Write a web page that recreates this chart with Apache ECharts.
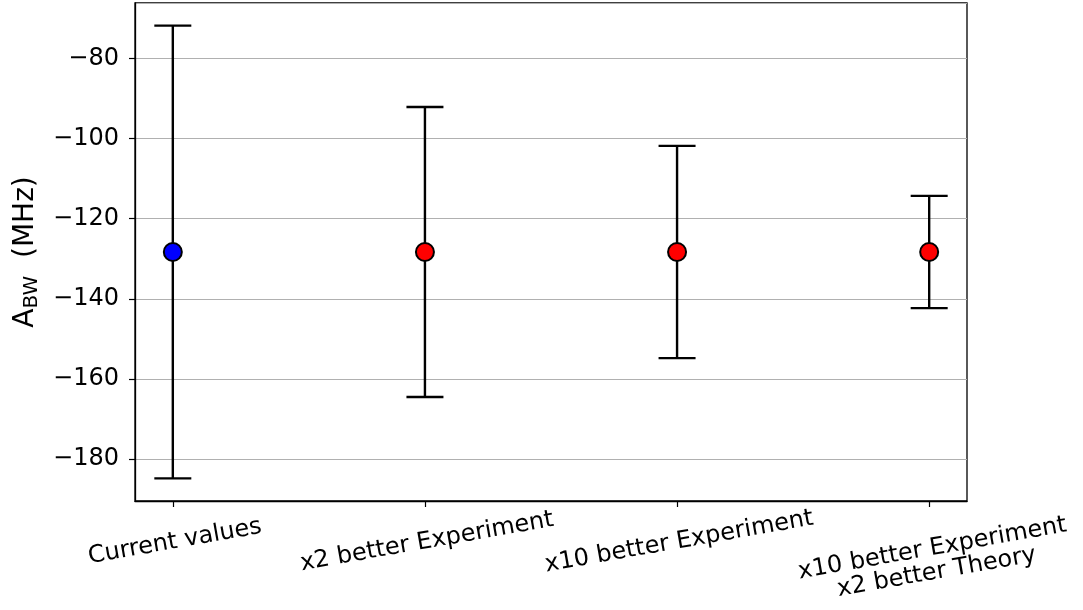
<!DOCTYPE html>
<html>
<head>
<meta charset="utf-8">
<script src="https://cdn.jsdelivr.net/npm/echarts@6/dist/echarts.min.js"></script>
<style>
  html, body { margin: 0; padding: 0; background: #fff; }
  #chart { width: 1083px; height: 610px; }
</style>
</head>
<body>
<div id="chart"></div>
<script>
// scenarios on the x axis
const categories = [
  "Current values",
  "x2 better Experiment",
  "x10 better Experiment",
  "x10 better Experiment\nx2 better Theory"
];
// central value of A_BW (MHz)
const centers = [-128.3, -128.3, -128.3, -128.3];
// symmetric uncertainty (MHz)
const errors = [56.5, 36.2, 26.5, 14.0];

const FONT = "DejaVu Sans";
const chart = echarts.init(document.getElementById("chart"));

// [x, low, high]
const barData = centers.map((c, i) => [i, c - errors[i], c + errors[i]]);
const pointData = centers.map((c, i) => ({
  value: [i, c],
  itemStyle: { color: i === 0 ? "#0000ff" : "#ff0000" }
}));

const lows = barData.map(d => d[1]);
const highs = barData.map(d => d[2]);
const dMin = Math.min(...lows), dMax = Math.max(...highs);
const pad = (dMax - dMin) * 0.05;
const xIdx = categories.map((_, i) => i);

// first line of a multi-line label gets a taller line box so the block sits lower
const labelText = v => {
  const lines = (categories[Math.round(v)] || "").split("\n");
  if (lines.length === 1) return "{n|" + lines[0] + "}";
  return lines.map((l, k) => (k === 0 ? "{p|" : "{n|") + l + "}").join("\n");
};
const lbl = { fontFamily: FONT, fontSize: 24, color: "#000" };

const option = {
  animation: false,
  grid: {
    left: 135, right: 116, top: 3, bottom: 109,
    outerBoundsMode: "none",
    containLabel: false,
    show: true, borderColor: "#000", borderWidth: 1.3
  },
  xAxis: {
    type: "value",
    min: -0.15,
    max: categories.length - 1 + 0.15,
    splitLine: { show: false },
    axisLine: { onZero: false, lineStyle: { color: "#000", width: 1.3 } },
    axisTick: { show: true, length: 6, customValues: xIdx, lineStyle: { color: "#000", width: 1.2 } },
    axisLabel: {
      customValues: xIdx,
      formatter: labelText,
      rotate: 10,
      align: "center",
      verticalAlign: "top",
      margin: 29,
      fontFamily: FONT,
      fontSize: 24,
      color: "#000",
      rich: {
        n: Object.assign({ lineHeight: 24 }, lbl),
        p: Object.assign({ lineHeight: 31, verticalAlign: "bottom" }, lbl)
      }
    }
  },
  yAxis: {
    type: "value",
    min: dMin - pad,
    max: dMax + pad,
    splitNumber: 5,
    name: "{a|A}{s|BW}{a|  (MHz)}",
    nameLocation: "middle",
    nameRotate: 90,
    nameGap: 90,
    nameTextStyle: {
      rich: {
        a: { fontFamily: FONT, fontSize: 28, color: "#000", lineHeight: 32 },
        s: { fontFamily: FONT, fontSize: 20, color: "#000", verticalAlign: "bottom", lineHeight: 20 }
      }
    },
    axisLine: { show: true, onZero: false, lineStyle: { color: "#000", width: 1.3 } },
    axisTick: { show: true, length: 6, lineStyle: { color: "#000", width: 1.2 } },
    axisLabel: {
      showMinLabel: false,
      showMaxLabel: false,
      margin: 16,
      fontFamily: FONT,
      fontSize: 24,
      color: "#000",
      formatter: v => String(v).replace("-", "\u2212")
    },
    splitLine: { show: true, lineStyle: { color: "#b0b0b0", width: 1.2 } }
  },
  series: [
    {
      type: "custom",
      data: barData,
      z: 2,
      renderItem: (params, api) => {
        const top = api.coord([api.value(0), api.value(2)]);
        const bot = api.coord([api.value(0), api.value(1)]);
        const hw = 18.5;
        const style = { stroke: "#000", lineWidth: 2.4 };
        return {
          type: "group",
          children: [
            { type: "line", shape: { x1: top[0], y1: top[1], x2: bot[0], y2: bot[1] }, style },
            { type: "line", shape: { x1: top[0] - hw, y1: top[1], x2: top[0] + hw, y2: top[1] }, style },
            { type: "line", shape: { x1: bot[0] - hw, y1: bot[1], x2: bot[0] + hw, y2: bot[1] }, style }
          ]
        };
      }
    },
    {
      type: "scatter",
      data: pointData,
      z: 3,
      symbol: "circle",
      symbolSize: 18,
      itemStyle: { borderColor: "#000", borderWidth: 2, opacity: 1 }
    }
  ]
};

chart.setOption(option);
</script>
</body>
</html>
